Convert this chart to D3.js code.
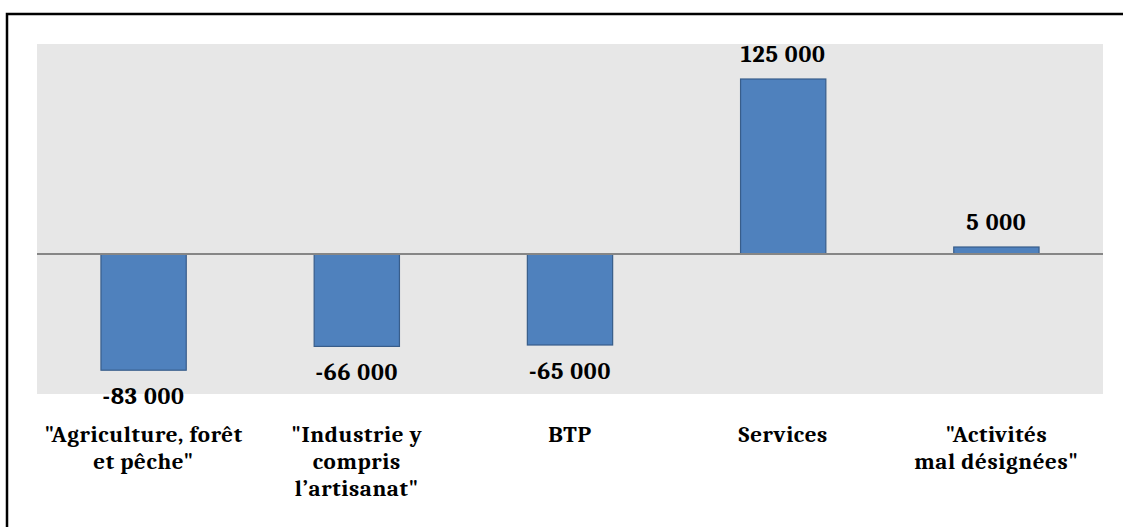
<!DOCTYPE html>
<html>
<head>
<meta charset="utf-8">
<script src="https://cdn.jsdelivr.net/npm/d3@7"></script>
<style>
  html, body { margin: 0; padding: 0; background: #fff; }
  svg { display: block; }
  text { font-family: Cambria, "Liberation Serif", "DejaVu Serif", serif; font-weight: bold; fill: #000; }
</style>
</head>
<body>
<svg id="chart" width="1123" height="527"></svg>
<script>
// categories (one entry per line of the wrapped label)
const categories = [
    ['"Agriculture, forêt', 'et pêche"'],
    ['"Industrie y', 'compris', 'l\u2019artisanat"'],
    ['BTP'],
    ['Services'],
    ['"Activités', 'mal désignées"']
];
const values = [-83000, -66000, -65000, 125000, 5000];
const valueLabels = ['-83 000', '-66 000', '-65 000', '125 000', '5 000'];

const svg = d3.select("#chart");
const plot = { left: 37, right: 1103, top: 44, bottom: 394 };

// outer frame (only top/left edges visible in the picture)
svg.append("rect")
    .attr("x", 7).attr("y", 14)
    .attr("width", 1200).attr("height", 600)
    .attr("fill", "none")
    .attr("stroke", "#000")
    .attr("stroke-width", 2.5);

// plot background
svg.append("rect")
    .attr("x", plot.left).attr("y", plot.top)
    .attr("width", plot.right - plot.left)
    .attr("height", plot.bottom - plot.top)
    .attr("fill", "#E7E7E7");

const x = d3.scaleBand()
    .domain(d3.range(categories.length))
    .range([plot.left, plot.right])
    .paddingInner(0.6)
    .paddingOuter(0.3);

const y = d3.scaleLinear()
    .domain([-100000, 150000])
    .range([plot.bottom, plot.top]);

// bars
svg.append("g")
    .selectAll("rect")
    .data(values)
    .join("rect")
    .attr("x", (d, i) => x(i))
    .attr("width", x.bandwidth())
    .attr("y", d => y(Math.max(0, d)))
    .attr("height", d => Math.abs(y(d) - y(0)))
    .attr("fill", "#4F81BD")
    .attr("stroke", "#385D8A")
    .attr("stroke-width", 1.2);

// zero line
svg.append("line")
    .attr("x1", plot.left).attr("x2", plot.right)
    .attr("y1", y(0)).attr("y2", y(0))
    .attr("stroke", "#868686")
    .attr("stroke-width", 2);

// value labels
svg.append("g")
    .selectAll("text")
    .data(values)
    .join("text")
    .attr("x", (d, i) => x(i) + x.bandwidth() / 2)
    .attr("y", d => d >= 0 ? y(d) - 17 : y(d) + 34)
    .attr("text-anchor", "middle")
    .style("font-size", "24px")
    .style("letter-spacing", "0.8px")
    .text((d, i) => valueLabels[i]);

// category labels
const cat = svg.append("g")
    .selectAll("text")
    .data(categories)
    .join("text")
    .attr("text-anchor", "middle")
    .style("font-size", "23px")
    .style("letter-spacing", "0.6px");

cat.each(function(lines, i) {
    const t = d3.select(this);
    lines.forEach((ln, k) => {
        t.append("tspan")
            .attr("x", x(i) + x.bandwidth() / 2)
            .attr("y", 442 + k * 27)
            .text(ln);
    });
});
</script>
</body>
</html>
